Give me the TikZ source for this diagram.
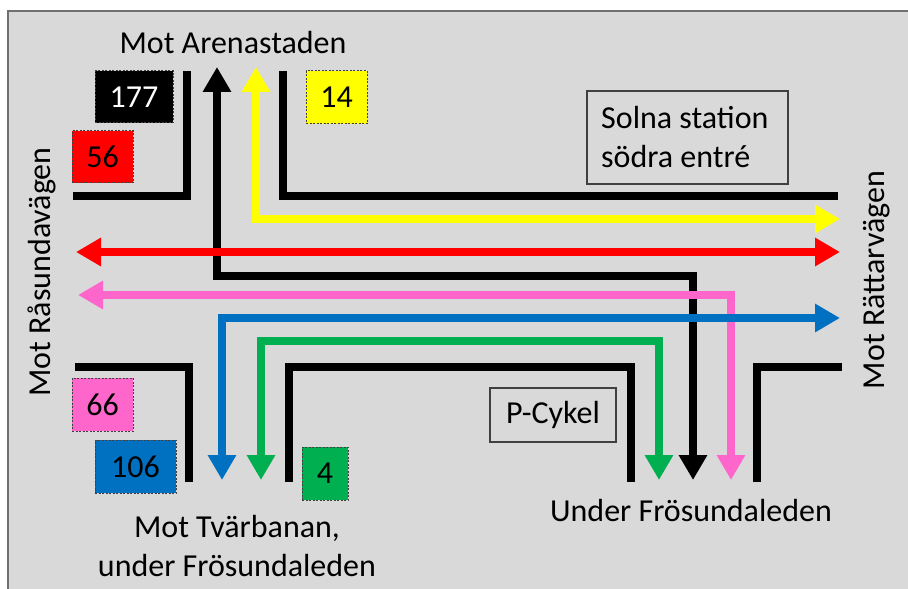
\documentclass[tikz,border=0pt]{standalone}
\usepackage{fontspec}
\setmainfont{Carlito}
\usetikzlibrary{arrows.meta}
\definecolor{bg}{HTML}{D9D9D9}
\definecolor{frame}{HTML}{707070}
\definecolor{rred}{HTML}{FF0000}
\definecolor{ryellow}{HTML}{FFFF00}
\definecolor{rpink}{HTML}{FF66CC}
\definecolor{rblue}{HTML}{0070C0}
\definecolor{rgreen}{HTML}{00B050}
\begin{document}
\begin{tikzpicture}[x=1bp,y=-1bp,
  every node/.style={font=\fontsize{32bp}{39bp}\selectfont, inner sep=0pt},
  wall/.style={line width=8bp, black, line join=miter},
  route/.style={line width=8bp, line join=miter, {Triangle[width=27bp,length=25bp]}-{Triangle[width=27bp,length=25bp]}},
  numbox/.style={draw=black!75, dashed, dash pattern=on 2bp off 1.5bp, line width=1bp, minimum height=53bp},
  infobox/.style={draw=black!75, line width=1.5bp}]
\useasboundingbox (0,0) rectangle (908,589);
\fill[white] (0,0) rectangle (908,589);
\fill[bg] (8,11) rectangle (920,600);
\draw[frame, line width=1.5bp] (8,600) -- (8,11) -- (920,11);
% walls
\draw[wall] (73,196) -- (187,196) -- (187,71);
\draw[wall] (283,71) -- (283,196) -- (838,196);
\draw[wall] (75,367) -- (189,367) -- (189,482);
\draw[wall] (289,482) -- (289,367) -- (631,367) -- (631,482);
\draw[wall] (757,482) -- (757,367) -- (842,367);
% routes
\draw[route, black] (217,67) -- (217,276) -- (693,276) -- (693,480);
\draw[route, ryellow] (256,67) -- (256,219) -- (840,219);
\draw[route, rred] (76,252) -- (840,252);
\draw[route, rpink] (78,295) -- (731,295) -- (731,480);
\draw[route, rblue] (222,480) -- (222,318) -- (840,318);
\draw[route, rgreen] (261,480) -- (261,341) -- (659,341) -- (659,480);
% number boxes
\node[numbox, fill=black, text=white, minimum width=78bp, minimum height=52bp] (b177) at (134,97) {177};
\node[numbox, fill=rred, minimum width=61bp, minimum height=52bp] (b56) at (102.5,157) {56};
\node[numbox, fill=ryellow, minimum width=61bp] (b14) at (336.5,97.5) {14};
\node[numbox, fill=rpink, minimum width=61bp] (b66) at (102.5,404.5) {66};
\node[numbox, fill=rblue, minimum width=81bp] (b106) at (135.5,466.5) {106};
\node[numbox, fill=rgreen, minimum width=46bp] (b4) at (325,473.5) {4};
% info boxes
\node[infobox, minimum width=201bp, minimum height=93bp] (solna) at (687.5,137.5) {};
\node[anchor=west, align=left] (solnat) at (601,137.5) {Solna station\\södra entré};
\node[infobox, minimum width=126bp, minimum height=54bp] (pcykel) at (553,415) {P-Cykel};
% labels
\node (arena) at (233,43) {Mot Arenastaden};
\node[rotate=90] (raso) at (42,272) {Mot Råsundavägen};
\node[rotate=90] (ratt) at (877,280) {Mot Rättarvägen};
\node[align=center] (tvar) at (237,546) {Mot Tvärbanan,\\under Frösundaleden};
\node (under) at (691,511) {Under Frösundaleden};
\end{tikzpicture}
\end{document}
